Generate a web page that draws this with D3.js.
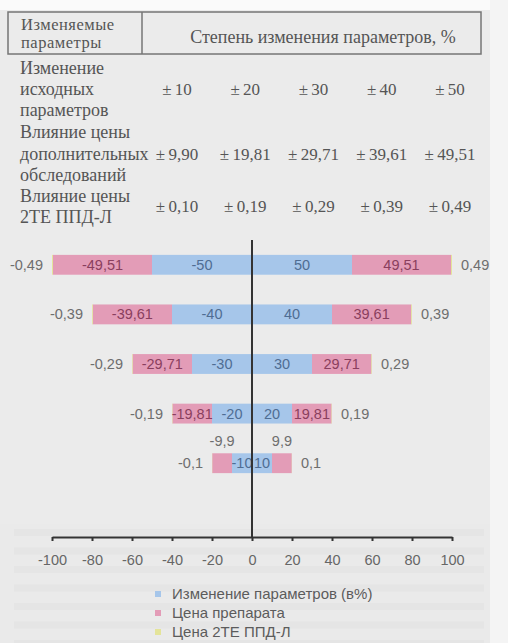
<!DOCTYPE html>
<html>
<head>
<meta charset="utf-8">
<script src="https://cdn.jsdelivr.net/npm/d3@7"></script>
<style>
  html, body { margin: 0; padding: 0; background: #ebebeb; }
  svg { display: block; }
</style>
</head>
<body>
<script>
// Sensitivity table and tornado chart data
const changeSteps = [10, 20, 30, 40, 50];                // % change of input parameters
const drugImpact  = [9.90, 19.81, 29.71, 39.61, 49.51];  // impact of drug price
const teImpact    = [0.10, 0.19, 0.29, 0.39, 0.49];      // impact of 2ТЕ ППД-Л price

const tableHeader = ["Изменяемые", "параметры"];
const tableTitle = "Степень изменения параметров, %";
const rowLabels = [
  ["Изменение", "исходных", "параметров"],
  ["Влияние цены", "дополнительных", "обследований"],
  ["Влияние цены", "2ТЕ ППД-Л"]
];

// chart rows: largest change on top
const chartRows = [4, 3, 2, 1, 0];
const xTicks = [-100, -80, -60, -40, -20, 0, 20, 40, 60, 80, 100];
const seriesNames = ["Изменение параметров (в%)", "Цена препарата", "Цена 2ТЕ ППД-Л"];
const seriesColors = ["#a6c6ea", "#e39cb7", "#e4e49a"];
const labelColors = ["#4f6d93", "#8a3f5e", "#6e6e6e"];

const W = 508, H = 643;
const svg = d3.select("body").append("svg").attr("width", W).attr("height", H);

// page background
svg.append("rect").attr("width", W).attr("height", H).attr("fill", "#ebebeb");
svg.append("rect").attr("x", 0).attr("y", 0).attr("width", W).attr("height", 10).attr("fill", "#fafafa");
svg.append("rect").attr("x", 490).attr("y", 0).attr("width", W - 490).attr("height", H).attr("fill", "#f4f4f4");
svg.append("rect").attr("x", 0).attr("y", 524).attr("width", 490).attr("height", H - 524).attr("fill", "#eaeaea");
// faint print show-through below the chart
const streaks = d3.range(529, 643, 18.5);
svg.append("g").selectAll("rect").data(streaks).join("rect")
  .attr("x", 14).attr("y", d => d).attr("width", 470).attr("height", 7)
  .attr("fill", "#d8d8d8").attr("opacity", 0.25);

// ---------- table ----------
const serif = "'Liberation Serif', 'DejaVu Serif', serif";
const tColor = "#555";
const table = svg.append("g").attr("font-family", serif).attr("fill", tColor).attr("font-size", 18);

table.append("rect").attr("x", 8).attr("y", 12).attr("width", 473).attr("height", 42)
  .attr("fill", "none").attr("stroke", "#767676").attr("stroke-width", 1.5);
table.append("line").attr("x1", 142).attr("x2", 142).attr("y1", 12).attr("y2", 54)
  .attr("stroke", "#767676").attr("stroke-width", 1.5);

table.selectAll("text.hdr").data(tableHeader).join("text").attr("class", "hdr")
  .attr("x", 21).attr("y", (d, i) => 30 + i * 18)
  .attr("font-size", 16.5).attr("letter-spacing", 0.5).text(d => d);
table.append("text").attr("x", 323).attr("y", 43).attr("text-anchor", "middle").text(tableTitle);

const colX = d3.scalePoint().domain(d3.range(5)).range([177, 450]);
const rowBase = [[74, 95, 116], [138, 160, 181], [202, 223]];
const rowValueY = [95, 160, 212];
const fmt2 = v => v.toFixed(2).replace(".", ",");
const pm = "±\u2009";
const rowValues = [
  changeSteps.map(v => pm + v),
  drugImpact.map(v => pm + fmt2(v)),
  teImpact.map(v => pm + fmt2(v))
];

rowLabels.forEach((lines, r) => {
  table.append("g").selectAll("text").data(lines).join("text")
    .attr("x", 20).attr("y", (d, i) => rowBase[r][i]).text(d => d);
  table.append("g").selectAll("text").data(rowValues[r]).join("text")
    .attr("x", (d, i) => colX(i)).attr("y", rowValueY[r]).attr("font-size", 17)
    .attr("text-anchor", "middle").text(d => d);
});

// ---------- tornado chart ----------
const sans = "'Liberation Sans', Arial, sans-serif";
const x = d3.scaleLinear().domain([-100, 100]).range([52, 452]);
const y = d3.scaleBand().domain(chartRows).range([240, 488]).paddingInner(0.6).paddingOuter(0.3);
const fmt = v => String(+v.toFixed(2)).replace(".", ",");

const chart = svg.append("g").attr("font-family", sans).attr("font-size", 14.5);

chartRows.forEach(i => {
  const p = changeSteps[i], d = drugImpact[i], t = teImpact[i];
  const segs = [];
  [-1, 1].forEach(s => {
    segs.push({ k: 0, a: 0, b: s * p, v: s * p, s });
    segs.push({ k: 1, a: s * p, b: s * (p + d), v: s * d, s });
    segs.push({ k: 2, a: s * (p + d), b: s * (p + d + t), v: s * t, s });
  });
  const yy = y(i), bh = y.bandwidth();
  const narrow = e => e.k === 1 && Math.abs(x(e.b) - x(e.a)) < 30;
  const g = chart.append("g");
  g.selectAll("rect").data(segs).join("rect")
    .attr("x", e => x(Math.min(e.a, e.b)))
    .attr("width", e => Math.abs(x(e.b) - x(e.a)))
    .attr("y", yy).attr("height", bh)
    .attr("fill", e => seriesColors[e.k]);

  g.selectAll("text").data(segs).join("text")
    .attr("x", e => e.k === 2 ? x(e.b) + e.s * 9 : x((e.a + e.b) / 2))
    .attr("y", e => narrow(e) ? yy - 7 : yy + bh / 2 + 5)
    .attr("text-anchor", e => e.k === 2 ? (e.s < 0 ? "end" : "start") : "middle")
    .attr("fill", e => narrow(e) ? "#6e6e6e" : labelColors[e.k])
    .text(e => fmt(e.v));
});

// zero line
chart.append("line").attr("x1", x(0)).attr("x2", x(0)).attr("y1", 240).attr("y2", 537)
  .attr("stroke", "#333").attr("stroke-width", 2);

// x axis
const axis = chart.append("g").attr("transform", "translate(0,537)")
  .call(d3.axisBottom(x).tickValues(xTicks).tickFormat(d => String(d))
    .tickSize(4).tickSizeOuter(0).tickPadding(14));
axis.select(".domain").attr("stroke", "#333").attr("stroke-width", 2);
axis.selectAll(".tick line").attr("stroke", "#333").attr("stroke-width", 2);
axis.selectAll(".tick text").attr("font-family", sans).attr("font-size", 14.5).attr("fill", "#666");

// legend
const legend = chart.append("g").attr("font-size", 15);
const ly = d3.scalePoint().domain(d3.range(3)).range([594, 632]);
legend.selectAll("rect").data(seriesNames).join("rect")
  .attr("x", 155).attr("y", (d, i) => ly(i) - 3).attr("width", 6).attr("height", 6)
  .attr("fill", (d, i) => seriesColors[i]);
legend.selectAll("text").data(seriesNames).join("text")
  .attr("x", 172).attr("y", (d, i) => ly(i) + 5).attr("fill", "#5c5c5c").text(d => d);
</script>
</body>
</html>
